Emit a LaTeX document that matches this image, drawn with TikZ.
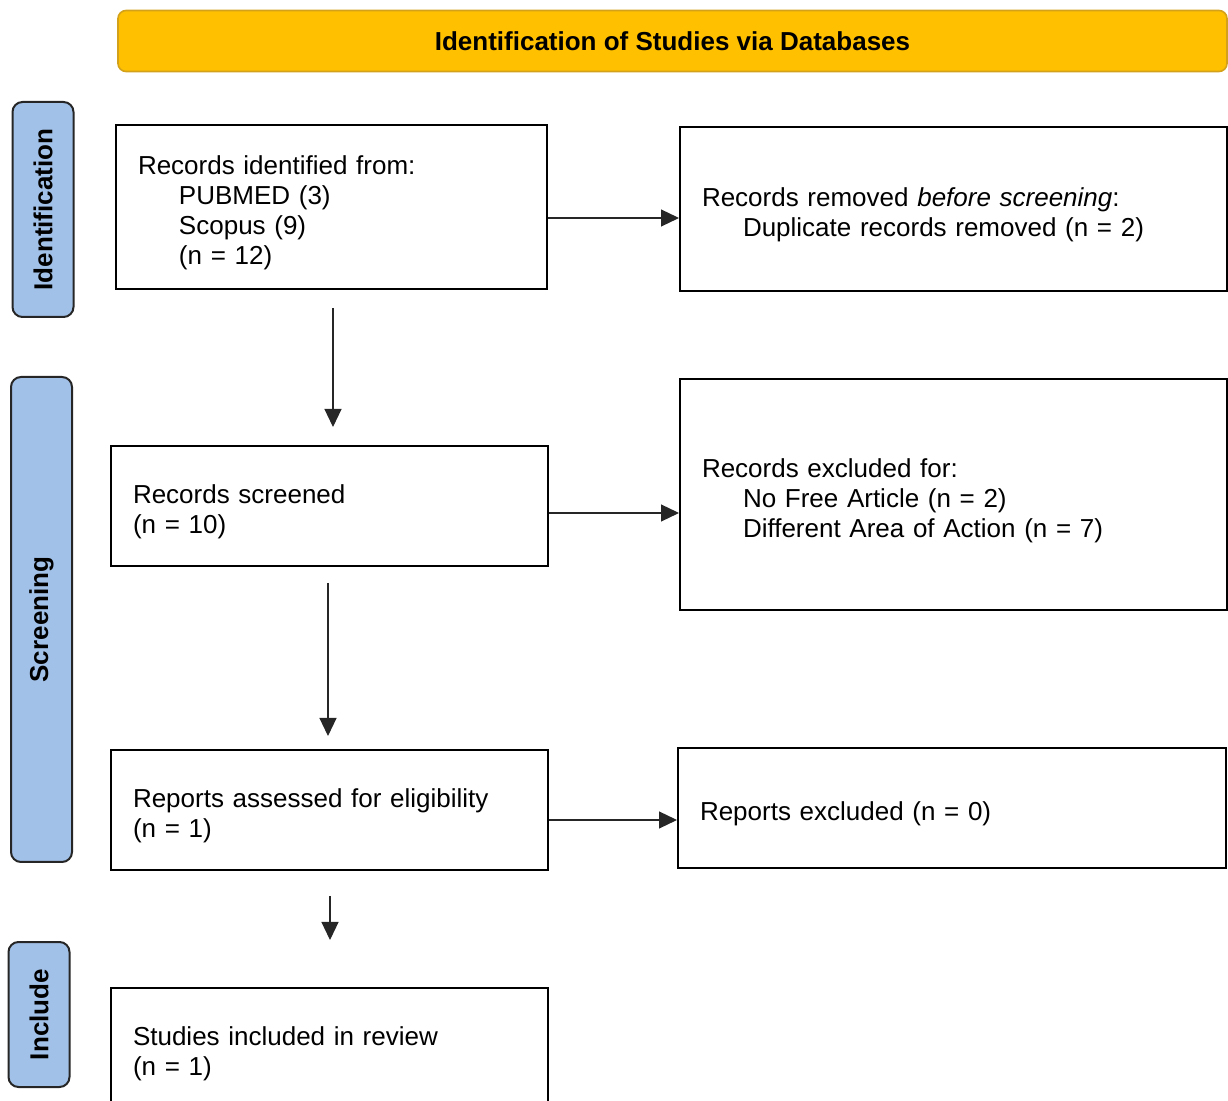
\documentclass[tikz,border=0pt]{standalone}
\usepackage{fontspec}
\setmainfont{Liberation Sans}
\usepackage{tikz}
\usetikzlibrary{arrows.meta}

\definecolor{headgold}{HTML}{FFC000}
\definecolor{headedge}{HTML}{D4A21A}
\definecolor{sideblue}{HTML}{A2C1E8}

\tikzset{
    headbox/.style={draw=headedge, fill=headgold, line width=0.8pt, rounded corners=4pt,
        font=\fontsize{13}{15}\selectfont\bfseries},
    sidebox/.style={draw=black!85, fill=sideblue, line width=1pt, rounded corners=5pt,
        rotate=90, minimum height=30.5pt, font=\fontsize{13}{15}\selectfont\bfseries},
    box/.style={draw, line width=1pt, inner xsep=11pt, inner ysep=0pt, align=left,
        font=\fontsize{13}{15}\selectfont, execute at begin node={\rule{0pt}{15.5pt}}},
    arr/.style={draw=black!85, line width=0.6pt, -{Triangle[length=9pt,width=8.5pt]}}
}
\newcommand{\ind}{\hspace*{20.5pt}}

\begin{document}
\begin{tikzpicture}[x=0.5pt, y=-0.5pt]
    \useasboundingbox (0,0) rectangle (1228,1101);

    \node[headbox, minimum width=554.5pt, minimum height=30.5pt] (head) at (672.5,41)
        {Identification of Studies via Databases};

    \node[sidebox, minimum width=107.5pt] (sideident) at (43,209.5) {Identification};
    \node[sidebox, minimum width=242.5pt] (sidescreen) at (41.5,619.5) {Screening};
    \node[sidebox, minimum width=72.5pt] (sideinclude) at (39,1014.5) {Include};

    \node[box, minimum width=215.5pt, minimum height=82pt, text width=193.5pt] (ident) at (331.5,207)
        {Records identified from:\\ \ind PUBMED (3)\\ \ind Scopus (9)\\ \ind (n = 12)};
    \node[box, minimum width=273.5pt, minimum height=82pt, text width=251.5pt] (dup) at (953.5,209)
        {Records removed \textit{before screening}:\\ \ind Duplicate records removed (n = 2)};

    \node[box, minimum width=218.5pt, minimum height=60pt, text width=196.5pt] (screened) at (329.5,506)
        {Records screened\\ (n = 10)};
    \node[box, minimum width=273.5pt, minimum height=115.5pt, text width=251.5pt] (excl) at (953.5,494.5)
        {Records excluded for:\\ \ind No Free Article (n = 2)\\ \ind Different Area of Action (n = 7)};

    \node[box, minimum width=218.5pt, minimum height=60pt, text width=196.5pt] (assessed) at (329.5,810)
        {Reports assessed for eligibility\\ (n = 1)};
    \node[box, minimum width=274pt, minimum height=60pt, text width=252pt] (repexcl) at (952,808)
        {Reports excluded (n = 0)};

    \node[box, minimum width=218.5pt, minimum height=60pt, text width=196.5pt] (included) at (329.5,1048)
        {Studies included in review\\ (n = 1)};

    \draw[arr] ([yshift=-5.5pt]ident.east) -- ([yshift=-4.5pt]dup.west);
    \draw[arr] ([yshift=-3.5pt]screened.east) -- ([yshift=-9.25pt]excl.west);
    \draw[arr] ([yshift=-5pt]assessed.east) -- ([yshift=-6pt]repexcl.west);

    \draw[arr, shorten <=9pt, shorten >=9pt] ([xshift=0.75pt]ident.south) -- ([xshift=0.75pt]ident.south |- screened.north);
    \draw[arr, shorten <=8pt, shorten >=6.5pt] ([xshift=-0.75pt]screened.south) -- ([xshift=-0.75pt]screened.south |- assessed.north);
    \draw[arr, shorten <=12.5pt, shorten >=23.5pt] ([xshift=0.25pt]assessed.south) -- ([xshift=0.25pt]assessed.south |- included.north);
\end{tikzpicture}
\end{document}
